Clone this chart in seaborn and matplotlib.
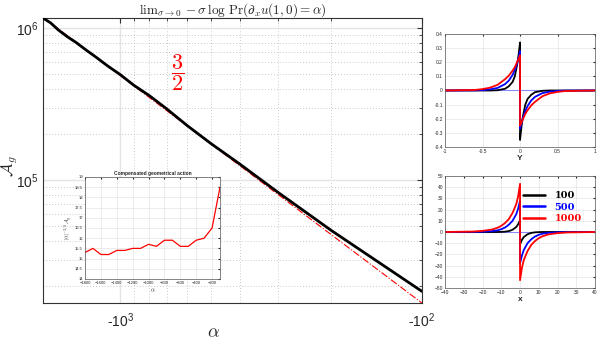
import numpy as np
import pandas as pd
import matplotlib
matplotlib.use("Agg")
import matplotlib.pyplot as plt
import matplotlib.ticker as mticker
import seaborn as sns

# main curve: geometrical action vs alpha
alpha = [-1800, -1700, -1600, -1500, -1400, -1300, -1200, -1100, -1000,
         -900, -800, -700, -600, -500, -400, -300, -200, -100]
action = [1.168e6, 1.086e6, 9.73e5, 8.83e5, 8.07e5, 7.22e5, 6.44e5, 5.65e5, 4.96e5,
          4.21e5, 3.60e5, 2.94e5, 2.29e5, 1.74e5, 1.27e5, 8.31e4, 4.67e4, 1.85e4]
# reference 3/2 power-law line (end points)
ref_alpha = [-1800, -100]
ref_action = [1.18e6, 1.55e4]
# inset: compensated action
comp = [15.3, 15.5, 15.2, 15.2, 15.4, 15.4, 15.5, 15.5, 15.7,
        15.6, 15.9, 15.9, 15.6, 15.6, 15.9, 16.0, 16.5, 18.5]

# top-right panel profiles vs Y
prof_y = [-1, -0.6, -0.5, -0.4, -0.3, -0.2, -0.15, -0.1, -0.07, -0.04, -0.02, 0,
          0, 0.02, 0.04, 0.07, 0.1, 0.15, 0.2, 0.3, 0.4, 0.5, 0.6, 1]
prof_100 = [0, 0, 0, 0, 0.002, 0.012, 0.03, 0.06, 0.1, 0.18, 0.25, 0.34,
            -0.35, -0.25, -0.18, -0.1, -0.06, -0.03, -0.012, -0.002, 0, 0, 0, 0]
prof_500 = [0, 0.001, 0.003, 0.008, 0.018, 0.045, 0.07, 0.11, 0.145, 0.19, 0.23, 0.28,
            -0.27, -0.23, -0.19, -0.145, -0.11, -0.07, -0.045, -0.018, -0.008, -0.003, -0.001, 0]
prof_1000 = [0, 0.004, 0.01, 0.02, 0.04, 0.08, 0.105, 0.14, 0.165, 0.2, 0.225, 0.25,
             -0.25, -0.225, -0.2, -0.165, -0.14, -0.105, -0.08, -0.04, -0.02, -0.01, -0.004, 0]

# bottom-right panel profiles vs x
prof_x = [-40, -25, -20, -15, -12, -10, -8, -6, -4, -2, -1, 0,
          0, 1, 2, 4, 6, 8, 10, 12, 15, 20, 25, 40]
grad_100 = [0, 0, 0, 0, 0, 0.1, 0.3, 0.8, 2, 4.5, 7, 10.5,
            -11, -7, -4.5, -2, -0.8, -0.3, -0.1, 0, 0, 0, 0, 0]
grad_500 = [0, 0.1, 0.3, 0.8, 1.5, 2.5, 4, 6.5, 10, 16, 21, 28,
            -28, -21, -16, -10, -6.5, -4, -2.5, -1.5, -0.8, -0.3, -0.1, 0]
grad_1000 = [0, 0.4, 1, 2.2, 3.8, 5.5, 8, 11.5, 17, 25, 32, 43,
             -43, -32, -25, -17, -11.5, -8, -5.5, -3.8, -2.2, -1, -0.4, 0]

labels = ["100", "500", "1000"]
colors = ["black", "blue", "red"]

sns.set_style("white")
plt.rcParams["font.family"] = ["Liberation Sans", "DejaVu Sans"]
plt.rcParams["mathtext.fontset"] = "cm"

fig = plt.figure(figsize=(5.99, 3.44), dpi=100)

# ---- main panel
ax = fig.add_axes([0.0718, 0.119, 0.6327, 0.829])
df = pd.DataFrame({"a": np.abs(alpha), "A": action})
ax.set_xscale("log")
ax.set_yscale("log")
ax.grid(True, which="major", color="#e4e4e4", lw=1.0, ls="-")
ax.grid(True, which="minor", color="#b8b8b8", lw=0.6, ls=(0, (1, 2.5)))
ax.plot(np.abs(ref_alpha), ref_action, color="red", lw=0.8, ls="-.", zorder=2)
sns.lineplot(data=df, x="a", y="A", color="black", lw=2.0, ax=ax,
             estimator=None, sort=False, zorder=3)
ax.set_xlim(1800, 100)
ax.set_ylim(1.55e4, 1.17e6)
ax.xaxis.set_major_locator(mticker.FixedLocator([1000, 100]))
ax.xaxis.set_major_formatter(mticker.FixedFormatter([r"-$\mathdefault{10^{3}}$", r"-$\mathdefault{10^{2}}$"]))
ax.xaxis.set_minor_formatter(mticker.NullFormatter())
ax.yaxis.set_minor_formatter(mticker.NullFormatter())
ax.tick_params(which="both", direction="in", top=True, right=True, labelsize=10, color="#333333")
ax.tick_params(axis="x", pad=6)
ax.tick_params(axis="y", pad=3)
for s in ax.spines.values():
    s.set_color("#333333")
    s.set_linewidth(0.8)
ax.set_xlabel(r"$\alpha$", fontsize=13)
ax.set_ylabel(r"$\mathcal{A}_g$", fontsize=12)
ax.xaxis.set_label_coords(0.451, -0.075)
ax.yaxis.set_label_coords(-0.062, 0.48)
ax.set_title(r"$\mathrm{lim}_{\sigma\to 0}\,-\sigma\,\log\,\mathrm{Pr}(\partial_x u(1,0) = \alpha)$",
             fontsize=9.5, pad=3)
fig.text(0.297, 0.79, r"$\dfrac{3}{2}$", color="red", fontsize=16, ha="center", va="center")

# ---- inset
axi = fig.add_axes([0.1419, 0.189, 0.2254, 0.2965])
dfi = pd.DataFrame({"a": alpha, "c": comp})
sns.lineplot(data=dfi, x="a", y="c", color="red", lw=0.9, ax=axi, estimator=None)
axi.set_facecolor("white")
axi.set_xlim(-1800, -100)
axi.set_ylim(14, 19)
axi.set_xticks(np.arange(-1800, -100, 200))
axi.set_yticks(np.arange(14, 19.01, 0.5))
axi.set_yticklabels(["14", "14.5", "15", "15.5", "16", "16.5", "17", "17.5", "18", "18.5", "19"])
axi.grid(True, color="#e4e4e4", lw=0.5)
axi.tick_params(labelsize=3, direction="in", length=1.5, pad=1.5, top=True, right=True)
for s in axi.spines.values():
    s.set_color("#555555")
    s.set_linewidth(0.5)
axi.set_title("Compensated geometrical action", fontsize=3.5, fontweight="bold", pad=1.5)
axi.set_xlabel(r"$\alpha$", fontsize=4.5, labelpad=1)
axi.set_ylabel(r"$|\alpha|^{-3/2}\mathcal{A}_g$", fontsize=4, labelpad=1)

# ---- right panels
def style_panel(a, xlabel):
    a.grid(True, color="#e4e4e4", lw=0.5)
    a.tick_params(labelsize=3.5, direction="in", length=1.5, pad=1.5, top=True, right=True)
    for s in a.spines.values():
        s.set_color("#555555")
        s.set_linewidth(0.5)
    a.set_xlabel(xlabel, fontsize=6, fontweight="bold", labelpad=1)
    a.set_ylabel("")

ax1 = fig.add_axes([0.743, 0.5727, 0.2504, 0.3285])
ax1.axhline(0, color="#8888ff", lw=0.8, zorder=1)
for vals, lab, c in zip([prof_100, prof_500, prof_1000], labels, colors):
    sns.lineplot(x=prof_y, y=vals, color=c, lw=1.3, ax=ax1, estimator=None, sort=False)
ax1.set_xlim(-1, 1)
ax1.set_ylim(-0.4, 0.4)
ax1.set_xticks([-1, -0.5, 0, 0.5, 1])
ax1.set_xticklabels(["-1", "-0.5", "0", "0.5", "1"])
ax1.set_yticks(np.arange(-0.4, 0.41, 0.1))
ax1.set_yticklabels(["-0.4", "-0.3", "-0.2", "-0.1", "0", "0.1", "0.2", "0.3", "0.4"])
style_panel(ax1, "Y")

ax2 = fig.add_axes([0.743, 0.1628, 0.2504, 0.3256])
ax2.axhline(0, color="#8888ff", lw=0.8, zorder=1)
for vals, lab, c in zip([grad_100, grad_500, grad_1000], labels, colors):
    sns.lineplot(x=prof_x, y=vals, color=c, lw=1.3, ax=ax2, estimator=None, sort=False, label=lab)
ax2.set_xlim(-40, 40)
ax2.set_ylim(-50, 50)
ax2.set_xticks(np.arange(-40, 41, 10))
ax2.set_yticks(np.arange(-50, 51, 10))
style_panel(ax2, "x")
leg = ax2.legend(loc="upper right", bbox_to_anchor=(0.97, 0.94), frameon=False,
                 prop={"family": "DejaVu Serif", "weight": "bold", "size": 7},
                 handlelength=2.2, labelspacing=0.25, handletextpad=1.0)
for t, c in zip(leg.get_texts(), colors):
    t.set_color(c)
for h in leg.get_lines():
    h.set_linewidth(1.8)

fig.savefig("out.png", dpi=100)
